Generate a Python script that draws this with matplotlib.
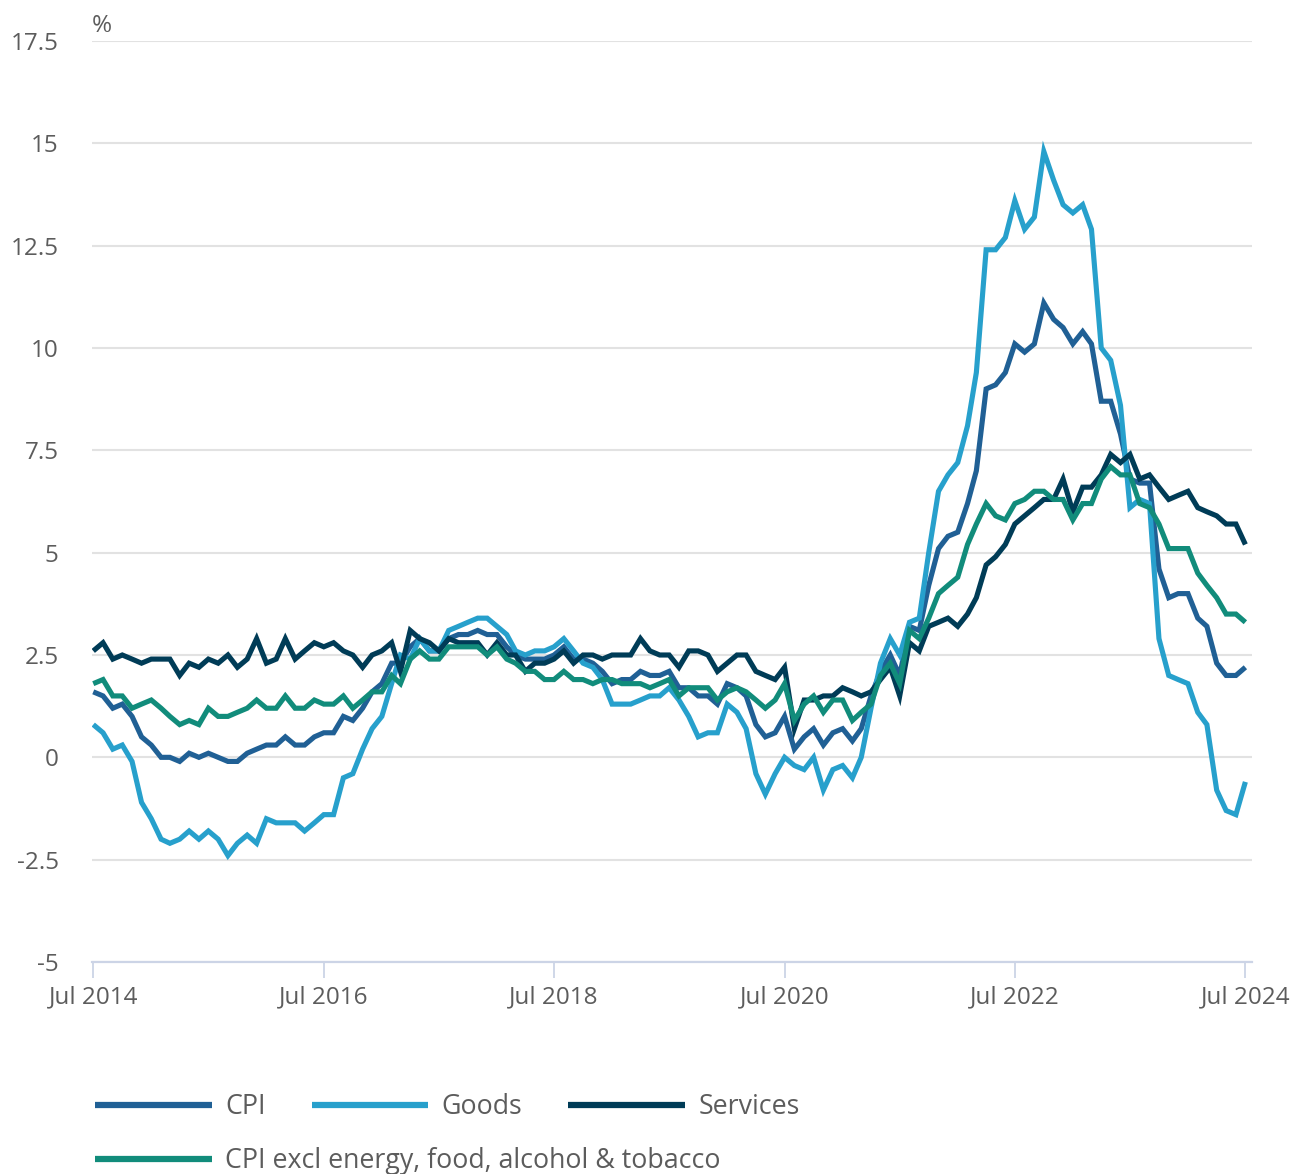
import matplotlib
matplotlib.use("Agg")
import matplotlib.pyplot as plt
import pandas as pd
import numpy as np

plt.rcParams['font.family'] = ['Open Sans', 'DejaVu Sans']

# ---------------- data (annual rate, %) Jul 2014 - Jul 2024 ----------------
months = pd.date_range("2014-07-01", "2024-07-01", freq="MS")

cpi = [
    1.6, 1.5, 1.2, 1.3, 1.0, 0.5,
    0.3, 0.0, 0.0, -0.1, 0.1, 0.0, 0.1, 0.0, -0.1, -0.1, 0.1, 0.2,
    0.3, 0.3, 0.5, 0.3, 0.3, 0.5, 0.6, 0.6, 1.0, 0.9, 1.2, 1.6,
    1.8, 2.3, 2.3, 2.7, 2.9, 2.6, 2.6, 2.9, 3.0, 3.0, 3.1, 3.0,
    3.0, 2.7, 2.5, 2.4, 2.4, 2.4, 2.5, 2.7, 2.4, 2.4, 2.3, 2.1,
    1.8, 1.9, 1.9, 2.1, 2.0, 2.0, 2.1, 1.7, 1.7, 1.5, 1.5, 1.3,
    1.8, 1.7, 1.5, 0.8, 0.5, 0.6, 1.0, 0.2, 0.5, 0.7, 0.3, 0.6,
    0.7, 0.4, 0.7, 1.5, 2.1, 2.5, 2.0, 3.2, 3.1, 4.2, 5.1, 5.4,
    5.5, 6.2, 7.0, 9.0, 9.1, 9.4, 10.1, 9.9, 10.1, 11.1, 10.7, 10.5,
    10.1, 10.4, 10.1, 8.7, 8.7, 7.9, 6.8, 6.7, 6.7, 4.6, 3.9, 4.0,
    4.0, 3.4, 3.2, 2.3, 2.0, 2.0, 2.2,
]

goods = [
    0.8, 0.6, 0.2, 0.3, -0.1, -1.1,
    -1.5, -2.0, -2.1, -2.0, -1.8, -2.0, -1.8, -2.0, -2.4, -2.1, -1.9, -2.1,
    -1.5, -1.6, -1.6, -1.6, -1.8, -1.6, -1.4, -1.4, -0.5, -0.4, 0.2, 0.7,
    1.0, 1.8, 2.5, 2.4, 2.9, 2.6, 2.6, 3.1, 3.2, 3.3, 3.4, 3.4,
    3.2, 3.0, 2.6, 2.5, 2.6, 2.6, 2.7, 2.9, 2.6, 2.3, 2.2, 1.9,
    1.3, 1.3, 1.3, 1.4, 1.5, 1.5, 1.7, 1.4, 1.0, 0.5, 0.6, 0.6,
    1.3, 1.1, 0.7, -0.4, -0.9, -0.4, 0.0, -0.2, -0.3, 0.0, -0.8, -0.3,
    -0.2, -0.5, 0.0, 1.2, 2.3, 2.9, 2.5, 3.3, 3.4, 5.0, 6.5, 6.9,
    7.2, 8.1, 9.4, 12.4, 12.4, 12.7, 13.6, 12.9, 13.2, 14.8, 14.1, 13.5,
    13.3, 13.5, 12.9, 10.0, 9.7, 8.6, 6.1, 6.3, 6.2, 2.9, 2.0, 1.9,
    1.8, 1.1, 0.8, -0.8, -1.3, -1.4, -0.6,
]

services = [
    2.6, 2.8, 2.4, 2.5, 2.4, 2.3,
    2.4, 2.4, 2.4, 2.0, 2.3, 2.2, 2.4, 2.3, 2.5, 2.2, 2.4, 2.9,
    2.3, 2.4, 2.9, 2.4, 2.6, 2.8, 2.7, 2.8, 2.6, 2.5, 2.2, 2.5,
    2.6, 2.8, 2.1, 3.1, 2.9, 2.8, 2.6, 2.9, 2.8, 2.8, 2.8, 2.5,
    2.8, 2.5, 2.5, 2.1, 2.3, 2.3, 2.4, 2.6, 2.3, 2.5, 2.5, 2.4,
    2.5, 2.5, 2.5, 2.9, 2.6, 2.5, 2.5, 2.2, 2.6, 2.6, 2.5, 2.1,
    2.3, 2.5, 2.5, 2.1, 2.0, 1.9, 2.2, 0.7, 1.4, 1.4, 1.5, 1.5,
    1.7, 1.6, 1.5, 1.6, 1.9, 2.2, 1.5, 2.8, 2.6, 3.2, 3.3, 3.4,
    3.2, 3.5, 3.9, 4.7, 4.9, 5.2, 5.7, 5.9, 6.1, 6.3, 6.3, 6.8,
    6.0, 6.6, 6.6, 6.9, 7.4, 7.2, 7.4, 6.8, 6.9, 6.6, 6.3, 6.4,
    6.5, 6.1, 6.0, 5.9, 5.7, 5.7, 5.2,
]

core = [
    1.8, 1.9, 1.5, 1.5, 1.2, 1.3,
    1.4, 1.2, 1.0, 0.8, 0.9, 0.8, 1.2, 1.0, 1.0, 1.1, 1.2, 1.4,
    1.2, 1.2, 1.5, 1.2, 1.2, 1.4, 1.3, 1.3, 1.5, 1.2, 1.4, 1.6,
    1.6, 2.0, 1.8, 2.4, 2.6, 2.4, 2.4, 2.7, 2.7, 2.7, 2.7, 2.5,
    2.7, 2.4, 2.3, 2.1, 2.1, 1.9, 1.9, 2.1, 1.9, 1.9, 1.8, 1.9,
    1.9, 1.8, 1.8, 1.8, 1.7, 1.8, 1.9, 1.5, 1.7, 1.7, 1.7, 1.4,
    1.6, 1.7, 1.6, 1.4, 1.2, 1.4, 1.8, 0.9, 1.3, 1.5, 1.1, 1.4,
    1.4, 0.9, 1.1, 1.3, 2.0, 2.3, 1.8, 3.1, 2.9, 3.4, 4.0, 4.2,
    4.4, 5.2, 5.7, 6.2, 5.9, 5.8, 6.2, 6.3, 6.5, 6.5, 6.3, 6.3,
    5.8, 6.2, 6.2, 6.8, 7.1, 6.9, 6.9, 6.2, 6.1, 5.7, 5.1, 5.1,
    5.1, 4.5, 4.2, 3.9, 3.5, 3.5, 3.3,
]

series_labels = ["CPI", "Goods", "Services", "CPI excl energy, food, alcohol & tobacco"]
series_colors = ["#206095", "#27a0cc", "#003c57", "#118c7b"]
y_ticks = [-5, -2.5, 0, 2.5, 5, 7.5, 10, 12.5, 15, 17.5]
x_tick_years = [2014, 2016, 2018, 2020, 2022, 2024]

# ---------------- figure ----------------
W, H = 1296, 1174
fig = plt.figure(figsize=(W / 100, H / 100), dpi=100)
ax_left, ax_right, ax_top, ax_bottom = 92, 1252, 41, 962
ax = fig.add_axes([ax_left / W, 1 - ax_bottom / H,
                   (ax_right - ax_left) / W, (ax_bottom - ax_top) / H])

lines = []
for vals, col, lab in zip([cpi, goods, services, core], series_colors, series_labels):
    ln, = ax.plot(months, vals, color=col, lw=3.7, label=lab,
                  solid_joinstyle="miter", solid_capstyle="butt", zorder=3)
    lines.append(ln)

ax.set_ylim(-5, 17.5)
ax.set_xlim(months[0] - pd.Timedelta(days=4), months[-1] + pd.Timedelta(days=21))

ax.set_yticks(y_ticks)
ax.set_yticklabels([("%g" % v) for v in y_ticks])
xt = [pd.Timestamp(f"{y}-07-01") for y in x_tick_years]
ax.set_xticks(xt)
ax.set_xticklabels([f"Jul {y}" for y in x_tick_years])

for s in ["top", "right", "left"]:
    ax.spines[s].set_visible(False)
ax.spines["bottom"].set_color("#ccd4e6")
ax.spines["bottom"].set_linewidth(1.6)

ax.grid(axis="y", color="#e2e2e2", lw=1.5, zorder=0)
ax.set_axisbelow(True)

ax.tick_params(axis="y", length=0, pad=24, labelsize=17.5, labelcolor="#5c5c5c")
ax.tick_params(axis="x", length=11.5, width=1.3, color="#ccd4e6", pad=5,
               labelsize=17.5, labelcolor="#5c5c5c")

fig.text(92 / W, 1 - 32 / H, "%", fontsize=17.5, color="#5c5c5c", va="baseline", ha="left")

leg_kw = dict(frameon=False, fontsize=19.3, labelcolor="#5c5c5c", handlelength=4.35,
              handletextpad=0.5, borderpad=0, borderaxespad=0, columnspacing=1.72,
              loc="center left")
leg1 = fig.legend(lines[:3], series_labels[:3], ncol=3,
                  bbox_to_anchor=(95 / W, 1 - 1107 / H), **leg_kw)
leg2 = fig.legend(lines[3:], series_labels[3:], ncol=1,
                  bbox_to_anchor=(95 / W, 1 - 1161 / H), **leg_kw)
for lg in (leg1, leg2):
    for h in lg.legend_handles:
        h.set_linewidth(4.5)

fig.savefig("out.png", dpi=100)
